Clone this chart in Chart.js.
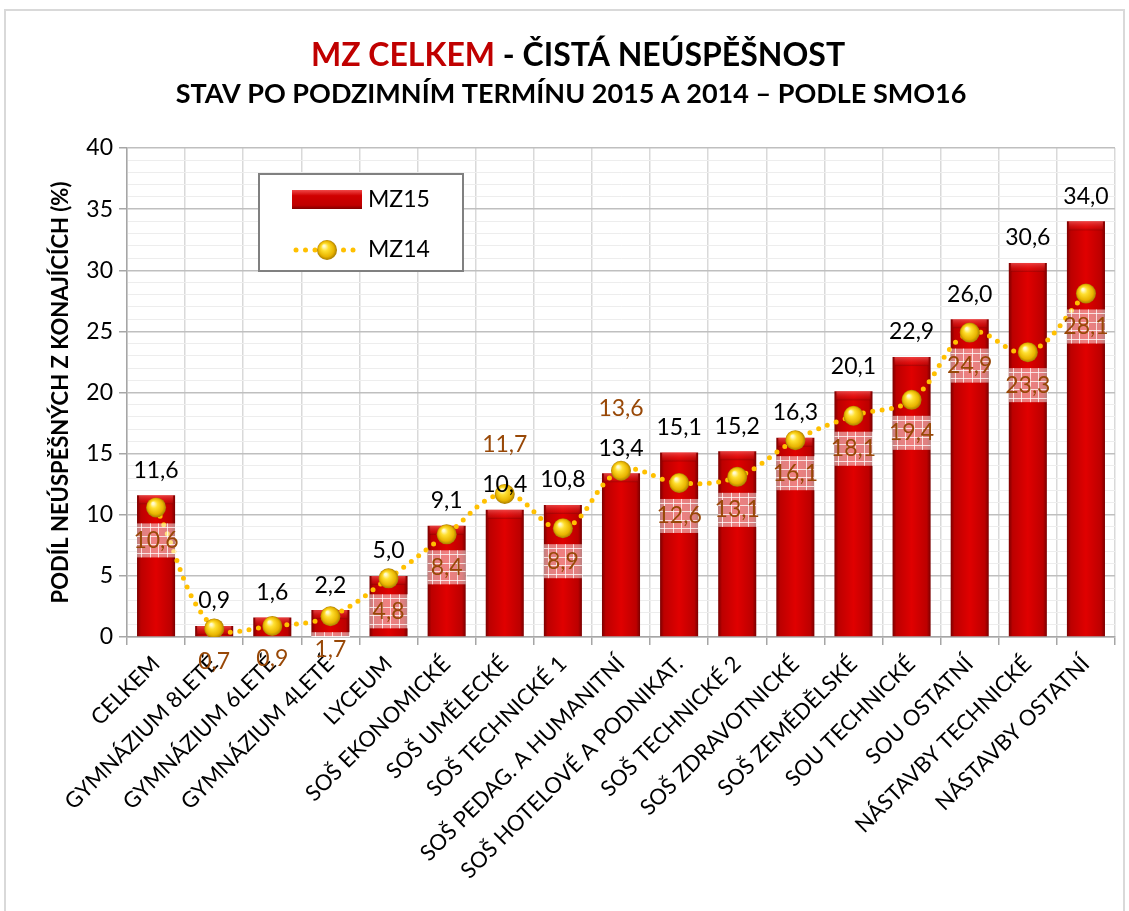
<!DOCTYPE html>
<html><head><meta charset="utf-8">
<script src="https://cdn.jsdelivr.net/npm/chart.js@4.4.1/dist/chart.umd.min.js"></script>
<style>html,body{margin:0;padding:0;background:#fff}#wrap{position:relative;width:1129px;height:911px}</style>
</head><body><div id="wrap"><canvas id="c" width="1129" height="911"></canvas></div>
<script>
const categories = ['CELKEM','GYMNÁZIUM 8LETÉ','GYMNÁZIUM 6LETÉ','GYMNÁZIUM 4LETÉ','LYCEUM','SOŠ EKONOMICKÉ','SOŠ UMĚLECKÉ','SOŠ TECHNICKÉ 1','SOŠ PEDAG. A HUMANITNÍ','SOŠ HOTELOVÉ A PODNIKAT.','SOŠ TECHNICKÉ 2','SOŠ ZDRAVOTNICKÉ','SOŠ ZEMĚDĚLSKÉ','SOU TECHNICKÉ','SOU OSTATNÍ','NÁSTAVBY TECHNICKÉ','NÁSTAVBY OSTATNÍ'];
const mz15 = [11.6,0.9,1.6,2.2,5.0,9.1,10.4,10.8,13.4,15.1,15.2,16.3,20.1,22.9,26.0,30.6,34.0];
const mz14 = [10.6,0.7,0.9,1.7,4.8,8.4,11.7,8.9,13.6,12.6,13.1,16.1,18.1,19.4,24.9,23.3,28.1];
const seriesNames = ['MZ15','MZ14'];
const yMajorTicks = [0,5,10,15,20,25,30,35,40];
const titleRed = 'MZ CELKEM';
const titleBlack = ' - ČISTÁ NEÚSPĚŠNOST';
const subtitleText = 'STAV PO PODZIMNÍM TERMÍNU 2015 A 2014 – PODLE SMO16';
const yTitleText = 'PODÍL NEÚSPĚŠNÝCH Z KONAJÍCÍCH (%)';

const FONT = 'Lato';
const BAR_FRAC = 0.655;
const fmt = v => v.toFixed(1).replace('.', ',');

function barGradient(ctx){
  const chart = ctx.chart, xs = chart.scales.x;
  if (ctx.type !== 'data' || !xs || !xs.width) return '#C00000';
  const cx = xs.getPixelForValue(ctx.dataIndex);
  const w = xs.width / categories.length * BAR_FRAC;
  const g = chart.ctx.createLinearGradient(cx - w/2, 0, cx + w/2, 0);
  g.addColorStop(0, '#7A0000');
  g.addColorStop(0.1, '#BC0000');
  g.addColorStop(0.5, '#E00000');
  g.addColorStop(0.9, '#BC0000');
  g.addColorStop(1, '#7A0000');
  return g;
}
function ball(c, cx, cy, r){
  const g = c.createRadialGradient(cx - r*0.3, cy - r*0.4, 1, cx, cy, r);
  g.addColorStop(0, '#FFFBD0');
  g.addColorStop(0.3, '#FFE030');
  g.addColorStop(0.75, '#E8B400');
  g.addColorStop(1, '#A87C00');
  return g;
}
function ballGradient(ctx){
  const chart = ctx.chart, xs = chart.scales.x, ys = chart.scales.y;
  if (ctx.type !== 'data' || !xs || !xs.width) return '#FFD000';
  const cx = xs.getPixelForValue(ctx.dataIndex);
  const cy = ys.getPixelForValue(ctx.raw);
  return ball(chart.ctx, cx, cy, 10);
}
function drawCheck(c, x, y, w, h){
  c.save();
  c.fillStyle = 'rgba(255,255,255,0.5)';
  c.fillRect(x, y, w, h);
  c.strokeStyle = 'rgba(255,255,255,0.75)';
  c.lineWidth = 1;
  c.beginPath();
  for (let xx = x + 4; xx < x + w; xx += 8.5){ c.moveTo(Math.round(xx)+0.5, y); c.lineTo(Math.round(xx)+0.5, y + h); }
  for (let yy = y + 4; yy < y + h; yy += 8.5){ c.moveTo(x, Math.round(yy)+0.5); c.lineTo(x + w, Math.round(yy)+0.5); }
  c.stroke();
  c.restore();
}

const framePlugin = {
  id: 'frame',
  beforeDraw(chart){
    const c = chart.ctx;
    c.save();
    c.fillStyle = '#fff';
    c.fillRect(0, 0, chart.width, chart.height);
    c.strokeStyle = '#D9D9D9';
    c.lineWidth = 2;
    c.strokeRect(5, 10, 1119, 920);
    c.restore();
  },
  afterDraw(chart){
    const c = chart.ctx;
    c.save();
    c.textBaseline = 'alphabetic';
    c.font = 'bold 32px ' + FONT;
    const w1 = c.measureText(titleRed).width, w2 = c.measureText(titleBlack).width;
    let x0 = 578 - (w1 + w2)/2;
    c.textAlign = 'left';
    c.fillStyle = '#C00000'; c.fillText(titleRed, x0, 66);
    c.fillStyle = '#000'; c.fillText(titleBlack, x0 + w1, 66);
    c.font = 'bold 27px ' + FONT;
    c.textAlign = 'center';
    c.fillText(subtitleText, 571, 103);
    // legend
    c.fillStyle = '#fff';
    c.fillRect(259, 174, 204, 97);
    c.strokeStyle = '#808080'; c.lineWidth = 2;
    c.strokeRect(259, 174, 204, 97);
    const lg = c.createLinearGradient(0, 190, 0, 209);
    lg.addColorStop(0, '#F04848'); lg.addColorStop(0.3, '#D00000'); lg.addColorStop(0.8, '#C00000'); lg.addColorStop(1, '#800000');
    c.fillStyle = lg; c.fillRect(292, 190, 70, 19);
    c.fillStyle = '#FFC000';
    for (let x = 296; x <= 360; x += 9.5){ if (Math.abs(x - 327) > 10){ c.beginPath(); c.arc(x, 250, 2.5, 0, Math.PI*2); c.fill(); } }
    c.fillStyle = ball(c, 327, 250, 10); c.beginPath(); c.arc(327, 250, 10, 0, Math.PI*2); c.fill();
    c.fillStyle = '#000'; c.font = '23px ' + FONT; c.textAlign = 'left'; c.textBaseline = 'middle';
    c.fillText(seriesNames[0], 368, 200);
    c.fillText(seriesNames[1], 368, 250);
    c.restore();
  }
};

const bevelPlugin = {
  id: 'bevel',
  afterDatasetDraw(chart, args){
    if (args.index !== 0) return;
    const c = chart.ctx;
    c.save();
    args.meta.data.forEach(bar => {
      const w = bar.width, x = bar.x - w/2, y = bar.y;
      const h = Math.min(9, bar.base - y);
      const g = c.createLinearGradient(0, y, 0, y + h);
      g.addColorStop(0, 'rgba(255,120,120,0.55)');
      g.addColorStop(0.7, 'rgba(230,40,40,0.25)');
      g.addColorStop(1, 'rgba(110,0,0,0.45)');
      c.fillStyle = g;
      c.fillRect(x + 2, y, w - 4, h);
    });
    c.restore();
  }
};

const labelPlugin = {
  id: 'valueLabels',
  afterDatasetsDraw(chart){
    const c = chart.ctx, area = chart.chartArea;
    const bars = chart.getDatasetMeta(0).data, pts = chart.getDatasetMeta(1).data;
    c.save();
    c.textAlign = 'center'; c.textBaseline = 'middle';
    bars.forEach((bar, i) => {
      const v15 = mz15[i], v14 = mz14[i];
      const y15 = bar.y - 25;
      let y14;
      if (v14 > v15) y14 = y15 - 40; else y14 = pts[i].y + 33;
      if (v14 <= v15){
        c.save();
        c.beginPath(); c.rect(area.left, area.top, area.right - area.left, area.bottom - area.top); c.clip();
        drawCheck(c, bar.x - bar.width/2, y14 - 17, bar.width, 34);
        c.restore();
      }
      c.font = '23px ' + FONT;
      c.fillStyle = '#000';
      c.fillText(fmt(v15), bar.x, y15);
      c.fillStyle = '#984807';
      c.fillText(fmt(v14), bar.x, y14);
    });
    c.restore();
  }
};

new Chart(document.getElementById('c'), {
  data: {
    labels: categories,
    datasets: [
      { type: 'bar', label: seriesNames[0], data: mz15, backgroundColor: barGradient, borderWidth: 0,
        barPercentage: BAR_FRAC, categoryPercentage: 1.0, order: 2 },
      { type: 'line', label: seriesNames[1], data: mz14, borderColor: '#FFC000', borderWidth: 5,
        borderDash: [0, 9.5], borderCapStyle: 'round', tension: 0.4, fill: false,
        pointRadius: 10, pointHoverRadius: 10, pointBackgroundColor: ballGradient, pointBorderWidth: 0, order: 1 }
    ]
  },
  options: {
    responsive: false, animation: false, devicePixelRatio: 1,
    layout: { padding: { left: 38, top: 148, right: 14, bottom: 0 } },
    plugins: { legend: { display: false }, tooltip: { enabled: false }, title: { display: false } },
    scales: {
      x: {
        grid: { offset: true, color: '#D9D9D9', lineWidth: 1.5, tickLength: 8, tickColor: '#A6A6A6' },
        border: { color: '#A6A6A6', width: 1.5 },
        ticks: { autoSkip: false, maxRotation: 45, minRotation: 45, color: '#000', font: { family: FONT, size: 22 }, padding: 6 },
        afterFit: s => { s.height = 274; }
      },
      y: {
        min: 0, max: 40,
        grid: {
          color: ctx => (yMajorTicks.includes(ctx.tick.value) ? '#BFBFBF' : '#EDEDED'),
          lineWidth: ctx => (yMajorTicks.includes(ctx.tick.value) ? 1.5 : 1),
          tickLength: 8,
          tickColor: ctx => (yMajorTicks.includes(ctx.tick.value) ? '#A6A6A6' : 'rgba(0,0,0,0)')
        },
        border: { color: '#A6A6A6', width: 1.5 },
        ticks: { stepSize: 1, autoSkip: false, color: '#000', font: { family: FONT, size: 23 }, padding: 6,
          callback: v => (yMajorTicks.includes(v) ? String(v) : '') },
        title: { display: true, text: yTitleText, color: '#000', font: { family: FONT, size: 22, weight: 'bold' }, padding: { top: 10, bottom: 0 } },
        afterFit: s => { s.width = 89; }
      }
    }
  },
  plugins: [framePlugin, bevelPlugin, labelPlugin]
});
</script></body></html>
